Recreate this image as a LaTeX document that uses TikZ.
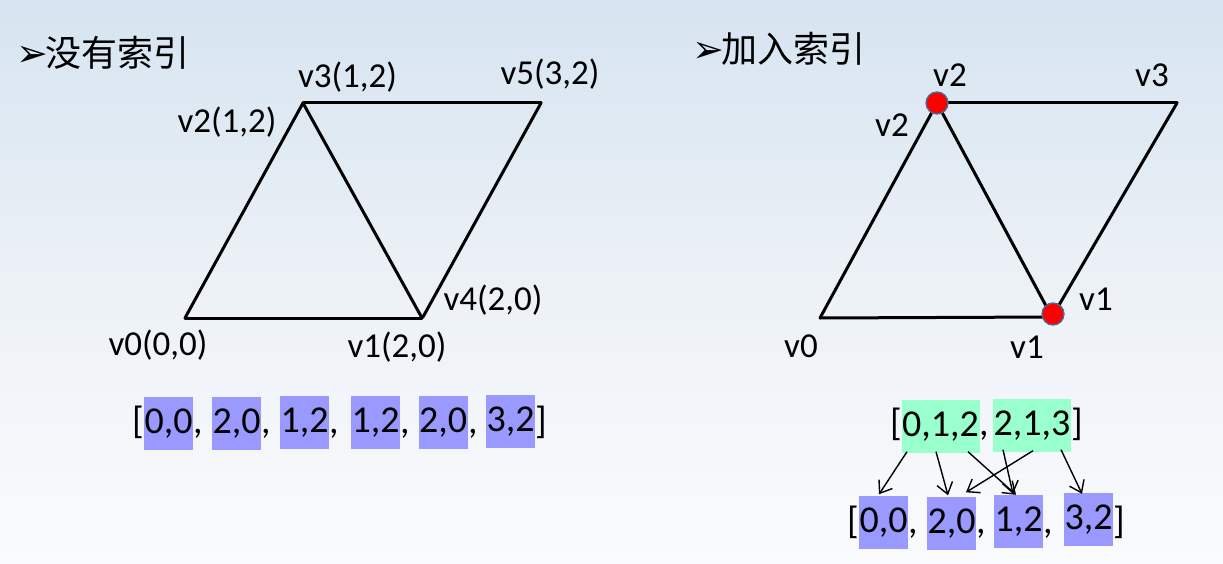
\documentclass[tikz,border=0pt]{standalone}
\usepackage{fontspec}
\setmainfont{Carlito}
\newfontfamily\cjkfont{Noto Sans CJK SC}
\newfontfamily\symfont{DejaVu Sans}
\usetikzlibrary{arrows.meta}
\definecolor{cellblue}{RGB}{153,153,255}
\definecolor{cellgreen}{RGB}{153,255,204}
\definecolor{bgtop}{RGB}{214,228,241}
\definecolor{bgmid}{RGB}{236,241,246}
\definecolor{bgbot}{RGB}{250,251,253}
\definecolor{dotedge}{RGB}{65,113,156}
\begin{document}
\begin{tikzpicture}[x=1pt,y=-1pt,
  edge/.style={line width=3pt, line join=miter, line cap=round},
  lbl/.style={anchor=base, inner sep=0pt, font=\fontsize{35}{40}\selectfont},
  txt/.style={inner sep=0pt, font=\fontsize{38}{44}\selectfont},
  cellb/.style={txt, fill=cellblue, minimum width=49pt, minimum height=53pt, text height=26pt, text depth=6pt},
  cellg/.style={txt, fill=cellgreen, minimum width=78pt, minimum height=53pt, text height=26pt, text depth=6pt},
  title/.style={anchor=base west, inner sep=0pt, font=\fontsize{36}{40}\selectfont},
  link/.style={line width=1.4pt, -{Straight Barb[length=11pt,width=16pt,line width=1.4pt]}},
  reddot/.style={circle, fill=red, draw=dotedge, line width=1.3pt, minimum size=22pt, inner sep=0pt}
]
\useasboundingbox (0,0) rectangle (1223,564);
\shade[top color=bgtop, bottom color=bgbot, middle color=bgmid] (0,0) rectangle (1223,564);

% titles
\node[title] (t1) at (16,67) {{\symfont\fontsize{38}{40}\selectfont ➢}\hspace{-3pt}{\cjkfont 没有索引}};
\node[title] (t2) at (692,63) {{\symfont\fontsize{38}{40}\selectfont ➢}\hspace{-3pt}{\cjkfont 加入索引}};

% left mesh
\coordinate (L0) at (185,318);
\coordinate (L1) at (422,318);
\coordinate (L3) at (303,103);
\coordinate (L5) at (541,103);
\coordinate (L4) at (423,317);
\draw[edge] (L0) -- (L1);
\draw[edge] (L0) -- (L3);
\draw[edge] (L3) -- (L1);
\draw[edge] (L3) -- (L5);
\draw[edge] (L5) -- (L4);

\node[lbl] (lv3) at (347.5,88) {v3(1,2)};
\node[lbl] (lv5) at (550,85) {v5(3,2)};
\node[lbl] (lv2) at (227,133) {v2(1,2)};
\node[lbl] (lv4) at (493,310) {v4(2,0)};
\node[lbl] (lv0) at (158,355) {v0(0,0)};
\node[lbl] (lv1) at (397,357) {v1(2,0)};

% right mesh
\coordinate (R0) at (820,318);
\coordinate (R1) at (1052,317);
\coordinate (R2) at (937,103);
\coordinate (R3) at (1177,103);
\draw[edge] (R0) -- (R1);
\draw[edge] (R0) -- (R2);
\draw[edge] (R2) -- (R1);
\draw[edge] (R2) -- (R3);
\draw[edge] (R3) -- (R1);
\node[reddot] (d2) at (937,103) {};
\node[reddot] (d1) at (1053,314) {};

\node[lbl] (rv2t) at (950,87) {v2};
\node[lbl] (rv3) at (1152,87) {v3};
\node[lbl] (rv2l) at (892,137) {v2};
\node[lbl] (rv1r) at (1096,310) {v1};
\node[lbl] (rv1b) at (1027,358) {v1};
\node[lbl] (rv0) at (801,357) {v0};

% left array
\node[txt, anchor=base east] (lo) at (144,433) {[};
\node[cellb] (a1) at (168.5,423) {0,0};
\node[txt, anchor=base west] (ac1) at (193,433) {,};
\node[cellb] (a2) at (236.5,423) {2,0};
\node[txt, anchor=base west] (ac2) at (261,433) {,};
\node[cellb] (a3) at (304.5,422.5) {1,2};
\node[txt, anchor=base west] (ac3) at (329,433) {,};
\node[cellb] (a4) at (375.5,422.5) {1,2};
\node[txt, anchor=base west] (ac4) at (400,433) {,};
\node[cellb] (a5) at (443,422.5) {2,0};
\node[txt, anchor=base west] (ac5) at (468,433) {,};
\node[cellb] (a6) at (510.5,421) {3,2};
\node[txt, anchor=base west] (lc) at (535,433) {]};

% index array
\node[txt, anchor=base east] (io) at (902,435) {[};
\node[cellg] (ia) at (940.5,426) {0,1,2};
\node[txt, anchor=base west] (ic) at (979,435) {,};
\node[cellg] (ib) at (1032,425) {2,1,3};
\node[txt, anchor=base west] (icl) at (1071,435) {]};

% vertex array
\node[txt, anchor=base east] (vo) at (859,533) {[};
\node[cellb] (b1) at (883.5,522) {0,0};
\node[txt, anchor=base west] (bc1) at (908,533) {,};
\node[cellb] (b2) at (951.5,523) {2,0};
\node[txt, anchor=base west] (bc2) at (976,533) {,};
\node[cellb] (b3) at (1018.5,521.5) {1,2};
\node[txt, anchor=base west] (bc3) at (1043,533) {,};
\node[cellb] (b4) at (1088.5,519.5) {3,2};
\node[txt, anchor=base west] (vcl) at (1113,533) {]};

% index links
\draw[link] ([xshift=-33.5pt,yshift=1pt]ia.south) -- ([xshift=-4.5pt,yshift=1pt]b1.north);
\draw[link] ([xshift=-4.5pt,yshift=1pt]ia.south) -- ([xshift=-3.5pt,yshift=1pt]b2.north);
\draw[link] ([xshift=27.5pt,yshift=1pt]ia.south) -- ([xshift=-2.5pt]b3.north);
\draw[link] ([xshift=-29pt,yshift=2pt]ib.south) -- ([xshift=-5.5pt,yshift=1pt]b3.north);
\draw[link] ([xshift=1pt,yshift=1pt]ib.south) -- ([xshift=14.5pt,yshift=4pt]b2.north);
\draw[link] ([xshift=29pt,yshift=2pt]ib.south) -- ([xshift=-6.5pt,yshift=-1pt]b4.north);
\end{tikzpicture}
\end{document}
